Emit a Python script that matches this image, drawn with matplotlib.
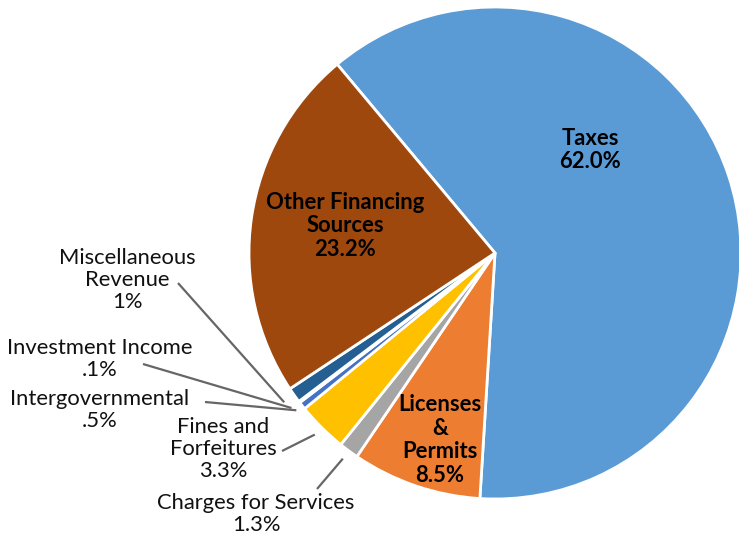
import numpy as np
import matplotlib.pyplot as plt

plt.rcParams['font.family'] = ['Lato', 'DejaVu Sans']

categories = ['Taxes', 'Licenses & Permits', 'Charges for Services', 'Fines and Forfeitures',
              'Intergovernmental', 'Investment Income', 'Miscellaneous Revenue', 'Other Financing Sources']
values = [62.0, 8.5, 1.3, 3.3, 0.5, 0.1, 1.0, 23.2]
pct_labels = ['62.0%', '8.5%', '1.3%', '3.3%', '.5%', '.1%', '1%', '23.2%']
colors = ['#5B9BD5', '#ED7D31', '#A5A5A5', '#FFC000', '#4472C4', '#70AD47', '#255E91', '#9E480E']

W, H = 739, 537
cx, cy, R = 495, 253, 246   # pie centre / radius in pixels


def px(x, y):
    return (x - cx) / R, (cy - y) / R


fig = plt.figure(figsize=(W / 100, H / 100), dpi=100)
ax = fig.add_axes([0, 0, 1, 1])

start = 129.9
wedges, _ = ax.pie(values, colors=colors, startangle=start, counterclock=False, radius=1,
                   wedgeprops=dict(edgecolor='white', linewidth=2))
ax.set_xlim(-cx / R, (W - cx) / R)
ax.set_ylim(-(H - cy) / R, cy / R)
ax.set_aspect('equal')
ax.axis('off')

# inside labels (bold)
inside = {
    0: ('Taxes\n' + pct_labels[0], (590, 150)),
    7: ('Other Financing\nSources\n' + pct_labels[7], (345, 226)),
    1: ('Licenses\n&\nPermits\n' + pct_labels[1], (440, 440)),
}
for i, (txt, (x, y)) in inside.items():
    ax.text(*px(x, y), txt, ha='center', va='center', fontsize=15.8, fontweight='bold',
            linespacing=1.15, color='black')

# outside labels with leader lines
outside = {
    6: ('Miscellaneous\nRevenue\n' + pct_labels[6], (127, 280), (178, 283)),
    5: ('Investment Income\n' + pct_labels[5], (100, 359), (143, 364)),
    4: ('Intergovernmental\n' + pct_labels[4], (100, 410), (205, 402)),
    3: ('Fines and\nForfeitures\n' + pct_labels[3], (223, 449), (282, 451)),
    2: ('Charges for Services\n' + pct_labels[2], (256, 514), (317, 489)),
}
ends = {6: 1.05, 5: 1.04, 4: 1.03, 3: 1.04, 2: 1.04}
for i, (txt, (x, y), (lx, ly)) in outside.items():
    ax.text(*px(x, y), txt, ha='center', va='center', fontsize=15.8, linespacing=1.15,
            color='#111111')
    w = wedges[i]
    mid = np.deg2rad((w.theta1 + w.theta2) / 2)
    r = ends[i]
    x0, y0 = px(lx, ly)
    ax.plot([x0, r * np.cos(mid)], [y0, r * np.sin(mid)], color='#666666', lw=1.6,
            solid_capstyle='butt')

fig.savefig('out.png', dpi=100, facecolor='white')
